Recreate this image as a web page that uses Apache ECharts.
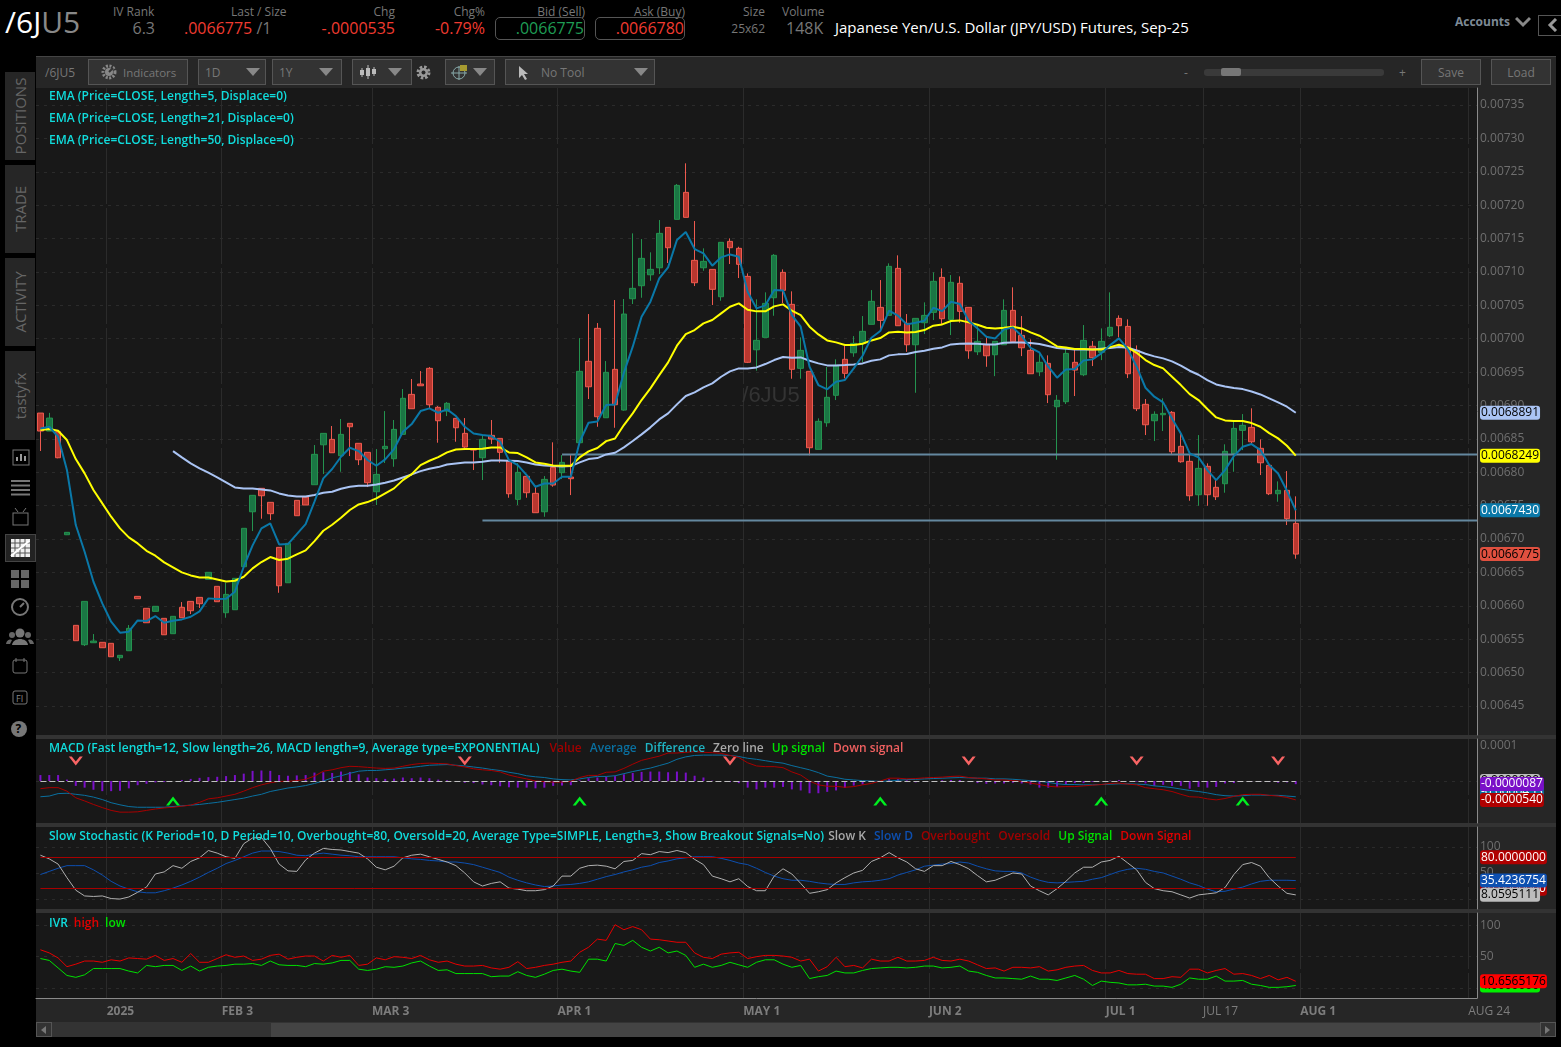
<!DOCTYPE html>
<html>
<head>
<meta charset="utf-8">
<title>/6JU5</title>
<script src="https://cdn.jsdelivr.net/npm/echarts@6/dist/echarts.min.js"></script>
<style>
html,body{margin:0;padding:0;background:#000;width:1561px;height:1047px;overflow:hidden;font-family:"Open Sans",sans-serif;}
.a{position:absolute;white-space:nowrap;}
.h{font-size:12px;color:#777;top:3px;}
.v{font-size:16px;top:17px;}
.box{border:1px solid #555;border-radius:5px;top:17px;height:23px;box-sizing:border-box;}
.btn{background:#333;border:1px solid #555;box-sizing:border-box;height:26px;top:59px;color:#777;font-size:12px;line-height:25px;}
.tab{left:5px;width:30px;background:#262626;}
.tab span{position:absolute;left:15px;top:50%;transform:translate(-50%,-50%) rotate(-90deg);color:#666;font-size:15px;white-space:nowrap;}
.arr{width:0;height:0;border-left:7px solid transparent;border-right:7px solid transparent;border-top:8px solid #888;top:68px;}
.ic{left:10px;}
</style>
</head>
<body>
<!-- header -->
<div class="a" style="left:5px;top:1px;font-size:30px;color:#fff;">/6J<span style="color:#888">U5</span></div>
<div class="a h" style="left:113px;">IV Rank</div>
<div class="a v" style="right:1406px;color:#777;">6.3</div>
<div class="a h" style="left:231px;">Last / Size</div>
<div class="a v" style="left:184px;color:#f03b30;">.0066775<span style="color:#777"> /1</span></div>
<div class="a h" style="right:1166px;">Chg</div>
<div class="a v" style="right:1166px;color:#f03b30;">-.0000535</div>
<div class="a h" style="right:1076px;">Chg%</div>
<div class="a v" style="right:1076px;color:#f03b30;">-0.79%</div>
<div class="a h" style="right:976px;">Bid (Sell)</div>
<div class="a box" style="left:495px;width:90px;"></div>
<div class="a v" style="right:977px;color:#1f9d55;">.0066775</div>
<div class="a h" style="right:876px;">Ask (Buy)</div>
<div class="a box" style="left:595px;width:90px;"></div>
<div class="a v" style="right:877px;color:#f03b30;">.0066780</div>
<div class="a h" style="right:796px;">Size</div>
<div class="a" style="right:796px;top:20px;font-size:12px;color:#777;">25x62</div>
<div class="a h" style="left:782px;">Volume</div>
<div class="a v" style="left:786px;color:#777;">148K</div>
<div class="a" style="left:835px;top:17px;font-size:15px;color:#fff;">Japanese Yen/U.S. Dollar (JPY/USD) Futures, Sep-25</div>
<div class="a" style="left:1455px;top:13px;font-size:12px;font-weight:700;color:#7d8a96;">Accounts</div>
<svg class="a" style="left:1515px;top:16px;" width="16" height="12"><path d="M1 2 L8 9 L15 2" fill="none" stroke="#888" stroke-width="3"/></svg>
<div class="a" style="left:1538px;top:15px;width:24px;height:21px;border:1px solid #555;box-sizing:border-box;"></div>
<svg class="a" style="left:1547px;top:18px;" width="12" height="14"><path d="M9 1 L3 7 L9 13" fill="none" stroke="#999" stroke-width="3"/></svg>

<!-- panel backgrounds -->
<div class="a" style="left:36px;top:56px;width:1520px;height:981px;background:#262626;"></div>
<div class="a" style="left:36px;top:56px;width:1520px;height:1px;background:#444;"></div>
<div class="a" style="left:36px;top:735px;width:1520px;height:4px;background:#333;"></div>
<div class="a" style="left:36px;top:823px;width:1520px;height:4px;background:#333;"></div>
<div class="a" style="left:36px;top:909px;width:1520px;height:4px;background:#333;"></div>

<!-- toolbar -->
<div class="a" style="left:45px;top:64px;font-size:12px;color:#777;">/6JU5</div>
<div class="a btn" style="left:88px;width:100px;padding-left:34px;font-size:11.5px;">Indicators</div>
<svg class="a" style="left:100px;top:64px;" width="18" height="16"><circle cx="9" cy="8" r="6" fill="none" stroke="#888" stroke-width="3" stroke-dasharray="2 1.500"/><circle cx="9" cy="8" r="4" fill="#888"/><path d="M9 8L13 4" stroke="#333" stroke-width="2"/></svg>
<div class="a btn" style="left:198px;width:68px;padding-left:6px;">1D</div><div class="a arr" style="left:246px;"></div>
<div class="a btn" style="left:272px;width:70px;padding-left:6px;">1Y</div><div class="a arr" style="left:319px;"></div>
<div class="a btn" style="left:352px;width:60px;"></div><div class="a arr" style="left:388px;"></div>
<svg class="a" style="left:358px;top:63px;" width="20" height="18"><path d="M4 5V14M10 2V16M16 4V13" stroke="#bbb"/><rect x="2" y="7" width="4" height="5" fill="#bbb"/><rect x="8" y="5" width="4" height="8" fill="#bbb"/><rect x="14" y="6" width="4" height="5" fill="#bbb"/></svg>
<svg class="a" style="left:416px;top:65px;" width="15" height="15"><circle cx="7.5" cy="7.500" r="5.500" fill="none" stroke="#999" stroke-width="3" stroke-dasharray="2.500 1.800"/><circle cx="7.5" cy="7.500" r="4.500" fill="#999"/><circle cx="7.5" cy="7.500" r="2" fill="#262626"/></svg>
<div class="a btn" style="left:445px;width:50px;"></div><div class="a arr" style="left:473px;"></div>
<svg class="a" style="left:450px;top:63px;" width="20" height="18"><circle cx="9" cy="10" r="6" fill="none" stroke="#8aa"/><path d="M1 10H17M9 3V17" stroke="#8aa"/><rect x="10" y="2" width="7" height="6" fill="#a69a30"/></svg>
<div class="a btn" style="left:505px;width:150px;padding-left:35px;">No Tool</div><div class="a arr" style="left:634px;"></div>
<svg class="a" style="left:518px;top:65px;" width="12" height="16"><path d="M1 1 L1 13 L4 10 L7 15 L9 14 L6 9 L10 9 Z" fill="#bbb"/></svg>
<div class="a" style="left:1184px;top:64px;font-size:12px;color:#777;">-</div>
<div class="a" style="left:1204px;top:69px;width:180px;height:7px;background:#3a3a3a;border-radius:3px;"></div>
<div class="a" style="left:1221px;top:68px;width:20px;height:8px;background:#777;border-radius:2px;"></div>
<div class="a" style="left:1399px;top:64px;font-size:12px;color:#777;">+</div>
<div class="a btn" style="left:1421px;width:60px;text-align:center;">Save</div>
<div class="a btn" style="left:1491px;width:60px;text-align:center;">Load</div>

<!-- left sidebar -->
<div class="a tab" style="top:72px;height:88px;"><span>POSITIONS</span></div>
<div class="a tab" style="top:165px;height:88px;"><span>TRADE</span></div>
<div class="a tab" style="top:258px;height:88px;"><span>ACTIVITY</span></div>
<div class="a tab" style="top:351px;height:89px;"><span>tastyfx</span></div>
<svg class="a ic" style="top:448px;" width="22" height="20"><rect x="3" y="2" width="16" height="15" fill="none" stroke="#777"/><path d="M7 13V9M11 13V6M15 13V8" stroke="#999" stroke-width="2"/></svg>
<svg class="a ic" style="top:479px;" width="22" height="18"><path d="M1 2H20M1 6.500H20M1 11H20M1 15.500H20" stroke="#777" stroke-width="2"/></svg>
<svg class="a ic" style="top:507px;" width="22" height="20"><rect x="3" y="6" width="15" height="12" fill="none" stroke="#777"/><path d="M8 5L5 1M13 5L16 1" stroke="#777"/></svg>
<div class="a" style="left:5px;top:534px;width:31px;height:28px;background:#222;border:1px solid #444;box-sizing:border-box;"></div>
<svg class="a ic" style="top:538px;" width="22" height="20"><rect x="1" y="1" width="19" height="18" fill="#eee"/><path d="M5 1V19M10 1V19M15 1V19M1 5H20M1 10H20M1 15H20" stroke="#555"/><path d="M1 18L19 3" stroke="#fff" stroke-width="2"/></svg>
<svg class="a ic" style="top:569px;" width="22" height="20"><rect x="1" y="1" width="8" height="8" fill="#666"/><rect x="11" y="1" width="8" height="8" fill="#666"/><rect x="1" y="11" width="8" height="8" fill="#666"/><rect x="11" y="11" width="8" height="8" fill="#666"/></svg>
<svg class="a ic" style="top:597px;" width="22" height="20"><circle cx="10" cy="10" r="8" fill="none" stroke="#777" stroke-width="2"/><path d="M10 10L14 6" stroke="#777" stroke-width="2"/></svg>
<svg class="a" style="left:6px;top:628px;" width="28" height="18"><circle cx="14" cy="5" r="4.500" fill="#777"/><path d="M6 17C7 9 21 9 22 17Z" fill="#777"/><circle cx="6" cy="7" r="3" fill="#666"/><circle cx="22" cy="7" r="3" fill="#666"/><path d="M0 16C1 11 5 11 6 12L4 16ZM28 16C27 11 23 11 22 12L24 16Z" fill="#666"/></svg>
<svg class="a ic" style="top:657px;" width="22" height="18"><rect x="3" y="3" width="14" height="13" rx="2" fill="none" stroke="#777"/><path d="M6 1V5M14 1V5" stroke="#777"/></svg>
<svg class="a ic" style="top:689px;" width="22" height="18"><rect x="3" y="2" width="14" height="13" rx="2" fill="none" stroke="#777"/><text x="6" y="13" font-size="9" fill="#888">FI</text></svg>
<svg class="a ic" style="top:720px;" width="22" height="18"><circle cx="9" cy="9" r="8" fill="#777"/><text x="5.500" y="13" font-size="12" font-weight="700" fill="#000">?</text></svg>

<!-- scrollbar -->
<div class="a" style="left:36px;top:1022px;width:1520px;height:15px;background:#333;"></div>
<div class="a" style="left:271px;top:1023px;width:1269px;height:14px;background:#444;"></div>
<div class="a" style="left:36px;top:1022px;width:16px;height:15px;border:1px solid #555;box-sizing:border-box;"></div>
<div class="a" style="left:1540px;top:1022px;width:16px;height:15px;border:1px solid #555;box-sizing:border-box;"></div>
<svg class="a" style="left:41px;top:1026px;" width="6" height="8"><path d="M5 0L0 4L5 8Z" fill="#777"/></svg>
<svg class="a" style="left:1545px;top:1026px;" width="6" height="8"><path d="M0 0L5 4L0 8Z" fill="#777"/></svg>

<div id="main" class="a" style="left:0;top:0;width:1561px;height:1047px;"></div>

<script>
// 日K数据 [open, close, low, high], 单位 1e-7
var candles = [
[68887,68618,68319,68887],[68618,68812,68618,68890],[68607,68218,68210,68633],[67065,67101,67060,67105],[65708,65478,65478,65708],
[65418,66067,65398,66067],[65448,65473,65448,65578],[65454,65373,65373,65454],[65439,65238,65238,65439],[65223,65259,65174,65259],
[65328,65663,65328,65713],[66142,66107,66107,66142],[65963,65747,65747,65963],[65918,65993,65918,65993],[65813,65567,65567,65813],
[65583,65843,65583,65843],[65978,65822,65822,66057],[66067,65927,65877,66067],[66127,66032,65967,66127],[66397,66502,66397,66502],
[66292,66062,66062,66292],[65897,66172,65822,66346],[65942,66412,65942,66412],[66586,67161,66586,67161],[67409,67655,67120,67655],
[67760,67649,67305,67760],[67550,67380,67285,67550],[66876,66301,66196,66876],[66346,66936,66346,66936],[67580,67350,67350,67580],
[67630,67510,67510,67630],[67814,68269,67814,68408],[68412,68583,67974,68583],[68493,68293,68293,68693],[68248,68568,68008,68798],
[68733,68682,68243,68733],[68434,68188,68108,68434],[68299,67844,67779,68299],[67709,67969,67510,68348],[68353,68389,68139,68917],
[68203,68643,68083,68783],[68568,69108,68568,69247],[69167,68952,68952,69397],[69322,69296,69296,69516],[69557,69012,68962,69576],
[68973,68772,68443,68992],[68917,69033,68842,69052],[68808,68667,68458,68808],[68583,68378,68333,68812],[68348,68333,68034,68348],
[68218,68493,67884,68558],[68553,68498,68423,68783],[68508,68299,68143,68508],[68173,67679,67619,68173],[67595,67999,67510,68139],
[67939,67694,67619,67939],[67685,67395,67395,67779],[67409,67894,67334,67944],[68074,67809,67784,68449],[67994,68149,67899,68258],
[67929,67904,67659,68258],[68443,69512,68443,70010],[69662,69281,69097,70370],[70156,68832,68682,70235],[68817,69497,68817,69666],
[69542,69012,68667,70580],[68932,70370,68922,70595],[70599,70755,70520,71578],[70794,71204,70614,71493],[70958,71039,70868,71294],
[71063,71578,70969,71778],[71668,71363,71134,71668],[71788,72297,71788,72317],[72192,71818,71818,72627],[71174,70839,70789,71763],
[71063,71159,71018,71354],[71039,70740,70505,71039],[70629,71444,70569,71444],[71458,71363,71119,71503],[71354,71114,70909,71378],
[70934,69647,69636,70979],[69835,69976,69521,70590],[70021,70530,70021,70695],[70614,71249,70344,71268],[70994,70725,70535,71039],
[70515,69542,69401,70710],[69557,69826,69401,70021],[69512,68368,68254,69512],[68344,68763,68344,68808],[68742,69123,68682,69576],
[69153,69602,69082,69692],[69692,69482,69407,69891],[69790,69931,69730,70040],[69931,70111,69647,70340],[70216,70560,70216,70729],
[70470,70275,70130,70879],[70350,71084,70350,71129],[71054,70195,70195,71249],[70231,69910,69805,70370],[69910,70305,69191,70305],
[70240,70350,70070,70545],[70395,70860,70280,70994],[70919,70300,70220,71054],[70290,70845,70055,70954],[70830,70410,70240,70934],
[70470,69820,69700,70470],[69805,69961,69755,70190],[69916,69745,69580,70021],[69760,69961,69440,69961],[69910,70425,69910,70590],
[70425,69955,69955,70770],[70050,69865,69740,70340],[69826,69476,69476,69990],[69506,69647,69440,69770],[69632,69162,69037,69751],
[68982,69078,68188,69157],[69057,69781,69022,69850],[69647,69531,69142,69831],[69461,69976,69440,70205],[69887,69716,69591,69966],
[69796,69961,69680,70155],[70045,70171,70025,70695],[70305,70195,70020,70350],[70185,69476,69411,70290],[69826,68952,68917,69900],
[69018,68712,68558,69097],[68772,68868,68468,68913],[68862,68883,68618,69108],[68898,68308,68273,68917],[68389,68158,68143,68607],
[68164,67649,67574,68258],[67664,68059,67499,68558],[68089,67664,67499,68134],[67775,67634,67585,67884],[67829,68314,67694,68419],
[68278,68658,68008,68768],[68628,68703,68333,68872],[68673,68457,68434,68958],[68359,68143,67959,68493],[68104,67679,67659,68104],
[67679,67730,67559,67864],[67730,67305,67210,68019],[67235,66775,66706,67640]
];
var ema5 = [68657,68682,68532,68034,67210,66811,66361,66037,65762,65598,65613,65782,65772,65847,65747,65777,65797,65837,65917,66112,
66102,66107,66212,66586,66906,67160,67235,66920,66925,67075,67225,67560,67909,68049,68233,68368,68318,68184,68098,68193,
68347,68607,68722,68917,68957,68892,68942,68842,68682,68582,68557,68542,68457,68183,68108,67958,67783,67833,67833,67933,
67933,68457,68742,68762,69007,69017,69491,69881,70330,70555,70904,71069,71478,71598,71343,71278,71094,71219,71263,71229,
70704,70455,70500,70729,70724,70355,70180,69581,69307,69242,69357,69382,69556,69746,70016,70115,70420,70345,70215,70240,
70270,70464,70414,70554,70519,70270,70155,70030,70005,70140,70170,70040,69865,69795,69581,69416,69541,69546,69676,69691,
69781,69905,70005,69845,69581,69266,69132,69047,68807,68582,68283,68223,68033,67884,68033,68243,68383,68423,68333,68108,
67983,67724,67430];
var ema21 = [68633,68648,68623,68483,68198,67984,67734,67534,67335,67160,67025,66935,66825,66751,66651,66576,66501,66456,66426,66426,
66396,66366,66376,66436,66561,66656,66731,66686,66706,66771,66831,66970,67125,67215,67320,67435,67519,67554,67609,67684,
67759,67883,67973,68108,68173,68228,68298,68342,68348,68348,68353,68372,68372,68298,68288,68223,68148,68128,68103,68098,
68098,68223,68313,68363,68467,68507,68708,68882,69082,69257,69456,69646,69896,70070,70130,70230,70280,70380,70480,70530,
70435,70410,70410,70485,70515,70420,70355,70180,70065,69975,69946,69906,69906,69926,69975,70010,70095,70105,70095,70100,
70130,70195,70215,70265,70275,70245,70210,70165,70155,70165,70180,70155,70095,70045,69970,69885,69870,69845,69845,69840,
69840,69875,69910,69870,69790,69681,69606,69556,69431,69306,69171,69082,68947,68822,68777,68767,68767,68737,68682,68587,
68508,68398,68249];
var ema50Start = 15;
var ema50 = [68318,68223,68133,68059,67994,67924,67849,67774,67759,67759,67744,67729,67684,67654,67639,67639,67659,67694,67709,67754,
67784,67799,67799,67818,67843,67878,67923,67968,68018,68053,68078,68118,68133,68148,68148,68158,68178,68178,68173,68168,
68148,68118,68103,68093,68088,68093,68148,68198,68213,68268,68293,68373,68468,68568,68673,68792,68882,69017,69142,69197,
69272,69332,69431,69511,69556,69556,69571,69621,69681,69726,69716,69721,69671,69631,69601,69601,69606,69616,69631,69671,
69691,69751,69766,69771,69801,69821,69850,69870,69915,69925,69930,69925,69915,69915,69940,69945,69945,69935,69920,69890,
69860,69850,69840,69840,69840,69850,69860,69875,69865,69825,69775,69736,69706,69661,69596,69521,69461,69381,69316,69286,
69261,69246,69211,69166,69107,69047,68982,68892];
// 手绘水平线 [起始K线, 价格]
var hLineStart = [59, 50];
var hLineValue = [68266, 67278];

// MACD, 单位 1e-6
var macdValue = [-22,-19,-19,-29,-48,-57,-67,-76,-84,-89,-89,-88,-84,-80,-77,-75,-72,-69,-61,-51,-48,-43,-38,-29,-19,-11,-5,-1,-1,1,
5,14,28,32,38,42,41,39,37,36,37,42,47,50,51,50,49,44,40,35,32,30,26,17,11,6,0,-2,-3,-3,-1,10,16,16,25,26,36,48,59,65,71,80,
80,82,84,82,81,79,73,67,52,43,41,41,38,26,17,0,-11,-15,-15,-18,-16,-11,-7,0,8,8,6,7,9,10,11,13,14,10,8,6,3,3,1,-1,-6,-10,-15,-17,-16,-16,
-14,-12,-10,-7,-6,-9,-11,-19,-22,-25,-30,-38,-45,-46,-51,-54,-50,-44,-39,-38,-38,-41,-43,-47,-54];
var macdAvg = [-45,-43,-36,-35,-38,-41,-46,-53,-62,-68,-73,-75,-75,-75,-75,-73,-71,-69,-67,-64,-61,-57,-53,-49,-43,-38,-30,-25,-20,-17,
-13,-7,0,9,15,22,28,30,30,32,34,37,39,42,45,46,47,45,43,40,37,33,30,25,21,15,12,10,6,4,3,6,10,13,13,15,21,27,32,37,44,51,
62,69,73,74,74,74,73,70,65,62,58,54,51,44,38,32,24,14,10,5,3,1,0,-1,0,2,4,5,6,7,8,9,10,9,8,8,6,6,5,3,1,-1,-4,-8,-10,-10,
-11,-11,-10,-9,-8,-8,-9,-10,-14,-16,-19,-23,-27,-30,-34,-39,-42,-43,-42,-40,-40,-41,-41,-43,-45];
var macdDiff = [17,17,17,4,-14,-19,-25,-29,-29,-28,-21,-12,-8,-4,-3,0,3,6,9,11,12,14,17,21,29,30,29,17,15,16,17,24,25,23,27,26,19,10,8,6,
7,10,8,10,8,4,2,-1,-5,-6,-10,-12,-15,-18,-19,-19,-21,-19,-14,-13,-12,2,8,10,12,14,19,23,26,27,27,25,
27,24,15,10,1,0,-3,-6,-19,-24,-19,-19,-17,-24,-27,-35,-35,-31,-27,-20,-13,-10,-3,0,5,5,2,-4,-2,0,2,3,3,-2,-6,-8,-7,-7,-5,-7,-10,-19,-19,-17,
-11,-6,-6,-3,0,1,3,0,-2,-7,-14,-11,-14,-14,-22,-17,-19,-17,-7,-6,0,-1,-1,-3,-5,-4,-9];
var macdDownAt = [4, 48, 78, 105, 124, 140];
var macdUpAt = [15, 61, 95, 120, 136];
var macdSignalLevel = 57;

// Slow Stochastic
var slowK = [84,77,67,41,17,6,5,6,1,0,4,13,23,48,52,64,59,72,79,93,88,81,78,106,117,118,97,67,54,53,75,88,97,95,94,91,88,77,61,56,63,79,84,86,81,76,71,64,50,33,25,30,33,21,19,16,16,18,25,44,44,59,64,65,63,58,72,74,87,85,91,89,
93,89,76,66,44,39,33,39,24,16,16,44,58,48,30,11,14,18,31,41,50,55,72,79,89,79,71,58,53,64,64,72,66,58,45,33,36,43,50,48,25,16,8,20,34,50,61,61,71,74,82,69,56,32,20,16,14,8,2,8,10,12,22,47,66,70,63,41,25,11,8];
var slowD = [47,53,59,64,64,64,56,46,34,25,19,14,12,12,16,21,27,34,42,51,59,68,74,81,88,92,92,91,88,84,83,86,88,86,84,83,81,81,81,81,81,79,77,76,74,73,71,71,69,66,61,56,51,42,36,31,27,24,25,27,28,30,33,38,43,47,52,56,61,64,70,73,
77,79,81,81,81,78,74,69,66,59,51,44,39,36,36,34,31,29,28,28,31,33,34,36,39,46,51,56,63,65,67,68,71,69,63,58,54,53,53,50,42,36,32,31,32,33,34,38,41,47,53,57,59,57,53,50,44,38,31,26,19,14,15,19,23,29,34,36,36,36,35.4];
var overBought = 80, overSold = 20;

// IVR
var ivrHigh = [61,56,48,34,38,43,43,41,45,43,48,47,46,52,44,47,41,55,41,41,47,53,49,51,44,46,52,54,46,49,51,51,43,52,49,52,36,38,48,45,50,49,47,52,45,41,43,38,35,35,36,32,30,33,42,31,33,36,38,41,43,57,65,78,76,101,93,98,93,78,77,75,
73,73,56,49,47,54,56,57,47,50,52,52,51,49,43,46,27,34,49,34,36,32,46,43,43,49,43,43,44,49,44,43,46,43,37,31,32,27,33,33,32,34,27,29,33,35,36,28,24,24,28,23,22,22,15,15,18,17,30,30,24,28,31,22,23,20,15,20,13,17,10.7];
var ivrLow = [47,44,32,20,17,21,31,31,31,31,27,24,36,34,36,36,28,35,27,33,35,36,38,38,39,36,43,37,36,36,34,39,38,40,44,44,30,28,30,34,33,35,40,43,35,28,29,23,23,23,23,18,19,19,26,20,17,22,28,30,27,25,46,46,43,71,68,76,65,59,65,56,
59,52,33,38,33,36,41,37,33,41,45,45,38,33,36,15,18,20,27,24,24,28,31,32,33,33,32,33,35,35,32,33,35,27,25,20,16,16,15,14,19,14,14,12,16,20,14,4,11,9,8,5,5,6,3,3,1,6,16,14,14,19,11,11,12,6,4,1,1,2,4];

// 时间轴, 刻度落在两根K线之间
var barCount = 163;
var dateTickAt = [7.5, 20.5, 37.5, 58.5, 79.5, 100.5, 120.5, 131.5, 142.5, 161.5];
var dateTickText = ['2025', 'FEB 3', 'MAR 3', 'APR 1', 'MAY 1', 'JUN 2', 'JUL 1', 'JUL 17', 'AUG 1', 'AUG 24'];
var dateTickPlain = ['JUL 17', 'AUG 24'];
var priceTicks = [0.00645, 0.0065, 0.00655, 0.0066, 0.00665, 0.0067, 0.00675, 0.0068, 0.00685, 0.0069, 0.00695,
    0.007, 0.00705, 0.0071, 0.00715, 0.0072, 0.00725, 0.0073, 0.00735];

var FONT = '"Open Sans", sans-serif';
var GRID_LINE = '#2b2b2b';
var UP_FILL = '#1a7644', UP_EDGE = '#24934f', DOWN_FILL = '#b8372f', DOWN_EDGE = '#ee5a4f';

function toPrice(v){ return v == null ? null : v / 1e7; }

var categories = [];
for (var i = 0; i < barCount; i++) { categories.push(String(i)); }

var candleData = [];
for (var j = 0; j < candles.length; j++) { candleData.push(candles[j].map(toPrice)); }

var ema50Full = [];
for (var k = 0; k < ema50Start; k++) { ema50Full.push(null); }
ema50Full = ema50Full.concat(ema50).map(toPrice);

var grids = [
    {left: 36, width: 1441, top: 88, height: 647},
    {left: 36, width: 1441, top: 739, height: 84},
    {left: 36, width: 1441, top: 827, height: 82},
    {left: 36, width: 1441, top: 913, height: 85}
];
grids.forEach(function(g){
    g.show = true;
    g.backgroundColor = '#181818';
    g.borderWidth = 0;
});

var xAxes = [];
// 类目轴放K线和指标
for (var g1 = 0; g1 < 4; g1++) {
    xAxes.push({
        type: 'category', gridIndex: g1, data: categories, boundaryGap: true,
        axisLine: {show: false, onZero: false}, axisTick: {show: false}, axisLabel: {show: false}, splitLine: {show: false}
    });
}
// 数值轴放网格线和日期标签
for (var g2 = 0; g2 < 4; g2++) {
    xAxes.push({
        type: 'value', gridIndex: g2, position: 'bottom', min: -0.5, max: barCount - 0.5,
        axisLine: {show: g2 === 3, onZero: false, lineStyle: {color: '#8a8a8a', width: 1}},
        axisTick: {show: false, customValues: dateTickAt},
        splitLine: {show: true, lineStyle: {color: GRID_LINE, width: 1, type: [56, 4]}},
        axisLabel: g2 !== 3 ? {show: false} : {
            show: true, customValues: dateTickAt, margin: 8, align: 'left',
            formatter: function(v){
                var t = dateTickText[dateTickAt.indexOf(v)];
                return dateTickPlain.indexOf(t) >= 0 ? '{n|' + t + '}' : '{b|' + t + '}';
            },
            rich: {
                b: {color: '#7d7d7d', fontWeight: 700, fontSize: 12, fontFamily: FONT},
                n: {color: '#7d7d7d', fontSize: 12, fontFamily: FONT}
            }
        }
    });
}

function yAxisFor(gridIndex, min, max, ticks, labels, fmt){
    return {
        type: 'value', gridIndex: gridIndex, position: 'right', min: min, max: max, scale: true,
        axisLine: {show: true, onZero: false, lineStyle: {color: '#8a8a8a', width: 1}},
        axisTick: {show: false, customValues: ticks},
        splitLine: {show: true, lineStyle: {color: GRID_LINE, width: 1, type: [3, 5]}},
        axisLabel: {show: true, customValues: labels, margin: 3, align: 'left', color: '#6f6f6f',
            fontSize: 12, fontFamily: FONT, formatter: fmt}
    };
}
var yAxes = [
    yAxisFor(0, 0.0064066, 0.0073755, priceTicks, priceTicks, function(v){ return v.toFixed(5); }),
    yAxisFor(1, -120, 120, [0], [100], function(v){ return (v / 1e6).toFixed(4); }),
    yAxisFor(2, -19, 138, [0, 50, 100], [50, 100], function(v){ return String(v); }),
    yAxisFor(3, -16, 119.7, [0, 50, 100], [50, 100], function(v){ return String(v); })
];

function lineSeries(name, data, xi, yi, color, width){
    return {
        name: name, type: 'line', data: data, xAxisIndex: xi, yAxisIndex: yi,
        showSymbol: false, symbol: 'none', connectNulls: false, silent: true, animation: false,
        lineStyle: {color: color, width: width}
    };
}
function flatLine(value, color, type){
    return {silent: true, symbol: 'none', animation: false, label: {show: false},
        lineStyle: {color: color, width: 1, type: type},
        data: [[{xAxis: 0, yAxis: value}, {xAxis: candles.length - 1, yAxis: value}]]};
}
function signalSeries(at, level, color, path){
    return {
        type: 'scatter', xAxisIndex: 1, yAxisIndex: 1, silent: true, animation: false,
        symbol: path, symbolSize: [14, 9], itemStyle: {color: color, opacity: 1},
        data: at.map(function(idx){ return [idx, level]; })
    };
}

var series = [];
for (var h = 0; h < hLineStart.length; h++) {
    series.push(lineSeries('line' + h, [[hLineStart[h], toPrice(hLineValue[h])], [barCount - 0.5, toPrice(hLineValue[h])]],
        4, 0, '#64889f', 2));
}
series.push({
    type: 'candlestick', xAxisIndex: 0, yAxisIndex: 0, data: candleData, barWidth: 6, silent: true, animation: false,
    itemStyle: {color: UP_FILL, color0: DOWN_FILL, borderColor: UP_EDGE, borderColor0: DOWN_EDGE, borderWidth: 1}
});
series.push(lineSeries('EMA50', ema50Full, 0, 0, '#aac4f4', 2));
series.push(lineSeries('EMA21', ema21.map(toPrice), 0, 0, '#ffff00', 2));
series.push(lineSeries('EMA5', ema5.map(toPrice), 0, 0, '#0a78a8', 2));

series.push({
    type: 'bar', xAxisIndex: 1, yAxisIndex: 1, data: macdDiff, barWidth: 2, silent: true, animation: false,
    itemStyle: {color: '#7a10c8'},
    markLine: flatLine(0, '#c0c0c0', [6, 3])
});
series.push(lineSeries('Average', macdAvg, 1, 1, '#0a70a0', 1));
series.push(lineSeries('Value', macdValue, 1, 1, '#a80000', 1));
series.push(signalSeries(macdDownAt, macdSignalLevel, '#f86464', 'path://M0 0 L3 0 L7 5 L11 0 L14 0 L7 9 Z'));
series.push(signalSeries(macdUpAt, -macdSignalLevel, '#00f020', 'path://M7 0 L14 9 L11 9 L7 4 L3 9 L0 9 Z'));

var stochD = lineSeries('Slow D', slowD, 2, 2, '#0d4fb0', 1);
stochD.markLine = flatLine(overBought, '#a80000', 'solid');
series.push(stochD);
var stochK = lineSeries('Slow K', slowK, 2, 2, '#b0b0b0', 1);
stochK.markLine = flatLine(overSold, '#a80000', 'solid');
series.push(stochK);

series.push(lineSeries('high', ivrHigh, 3, 3, '#e60000', 1));
series.push(lineSeries('low', ivrLow, 3, 3, '#00e000', 1));

function legendStyle(color){
    return {color: color, fontSize: 12, fontWeight: 600, fontFamily: FONT};
}
var legendRich = {
    c: legendStyle('#10dcdc'),
    dr: legendStyle('#a00000'),
    t: legendStyle('#0a70a0'),
    td: legendStyle('#1fb4c4'),
    gy: legendStyle('#a8a8a8'),
    gn: legendStyle('#00e000'),
    pk: legendStyle('#f06060'),
    bl: legendStyle('#0d4fb0'),
    rd: legendStyle('#e00000'),
    s4: {width: 4},
    s6: {width: 6},
    s8: {width: 8},
    s10: {width: 10}
};
function legendRow(text, top){
    return {text: text, left: 49, top: top, padding: 0, textStyle: {rich: legendRich, lineHeight: 16, fontWeight: 'normal'}};
}
var titles = [
    legendRow('{c|EMA (Price=CLOSE, Length=5, Displace=0)}', 89),
    legendRow('{c|EMA (Price=CLOSE, Length=21, Displace=0)}', 111),
    legendRow('{c|EMA (Price=CLOSE, Length=50, Displace=0)}', 133),
    legendRow('{c|MACD (Fast length=12, Slow length=26, MACD length=9, Average type=EXPONENTIAL)}{s10| }{dr|Value}{s8| }{t|Average}{s8| }{td|Difference}{s8| }{gy|Zero line}{s8| }{gn|Up signal}{s8| }{pk|Down signal}', 741),
    legendRow('{c|Slow Stochastic (K Period=10, D Period=10, Overbought=80, Oversold=20, Average Type=SIMPLE, Length=3, Show Breakout Signals=No)}{s4| }{gy|Slow K}{s8| }{bl|Slow D}{s8| }{dr|Overbought}{s8| }{dr|Oversold}{s8| }{gn|Up Signal}{s8| }{rd|Down Signal}', 829),
    legendRow('{c|IVR}{s6| }{rd|high}{s6| }{gn|low}', 916)
];

var myChart = echarts.init(document.getElementById('main'), null, {renderer: 'canvas'});
myChart.setOption({
    animation: false,
    backgroundColor: 'transparent',
    tooltip: {show: false},
    title: titles,
    grid: grids,
    xAxis: xAxes,
    yAxis: yAxes,
    series: series
});

// 右侧数值标签
var TAG_X = 1480;
var tags = [
    [0, toPrice(68891), '0.0068891', '#aac4f4', '#000'],
    [0, toPrice(68249), '0.0068249', '#ffff00', '#000'],
    [0, toPrice(67430), '0.0067430', '#0a78a8', '#fff'],
    [0, toPrice(66775), '0.0066775', '#e0503f', '#000'],
    [1, 0, '0.0000000', '#bdbdbd', '#000'],
    [1, -30, '-0.0000453', '#0a70a0', '#fff'],
    [1, -8.7, '-0.0000087', '#7a10c8', '#fff'],
    [1, -54, '-0.0000540', '#b00000', '#fff'],
    [2, 80, '80.0000000', '#b00000', '#fff'],
    [2, 20, '20.0000000', '#b00000', '#fff'],
    [2, 35.42, '35.4236754', '#0d4fb0', '#fff'],
    [2, 8.06, '8.0595111', '#bdbdbd', '#000'],
    [3, 4, '4.0000000', '#00f000', '#000'],
    [3, 10.66, '10.6565176', '#ff0000', '#000']
];
var graphics = [{
    type: 'text', x: 771, y: 396, z: 1, silent: true,
    style: {text: '/6JU5', fill: '#333', font: '22px "Liberation Sans", sans-serif', textAlign: 'center', textVerticalAlign: 'middle'}
}];
tags.forEach(function(t, n){
    graphics.push({
        type: 'text', x: TAG_X, y: myChart.convertToPixel({yAxisIndex: t[0]}, t[1]), z: 100 + n, silent: true,
        style: {text: t[2], fill: t[4], font: '12px ' + FONT, textAlign: 'left', textVerticalAlign: 'middle',
            backgroundColor: t[3], padding: [0, 1], borderRadius: 3, lineHeight: 14}
    });
});
myChart.setOption({graphic: graphics});
</script>
</body>
</html>
